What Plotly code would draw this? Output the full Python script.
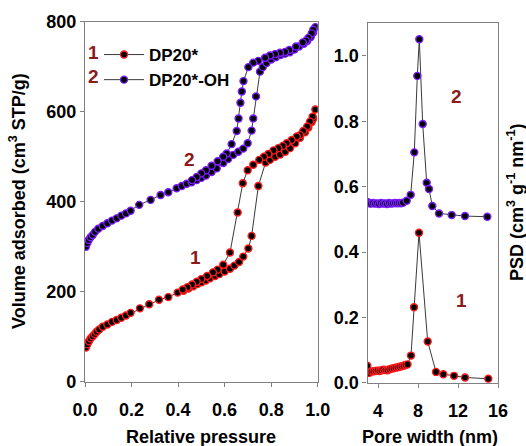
import plotly.graph_objects as go

# ---- N2 isotherms (relative pressure, volume adsorbed cm3 STP/g) ----
# DP20*: adsorption branch (rising), then desorption branch (falling)
p_dp20_ads = [0.004, 0.010, 0.017, 0.024, 0.033, 0.042, 0.050, 0.061, 0.076, 0.096,
              0.116, 0.136, 0.156, 0.176, 0.196, 0.236, 0.276, 0.318, 0.358, 0.398,
              0.423, 0.444, 0.465, 0.483, 0.501, 0.519, 0.537, 0.559, 0.577, 0.600,
              0.623, 0.642, 0.662, 0.680, 0.702, 0.716, 0.745, 0.776, 0.795, 0.817,
              0.838, 0.860, 0.881, 0.903, 0.924, 0.945, 0.960, 0.974, 0.981, 0.990]
v_dp20_ads = [76, 83, 90, 96, 101, 106, 111, 116, 122, 127,
              133, 137, 142, 147, 153, 163, 172, 182, 188, 198,
              202, 207, 212, 217, 221, 225, 230, 235, 239, 245,
              251, 258, 266, 278, 296, 324, 435, 487, 493, 500,
              505, 511, 519, 530, 542, 554, 565, 577, 585, 605]
p_dp20_des = [0.978, 0.967, 0.955, 0.938, 0.924, 0.910, 0.888, 0.867, 0.850, 0.831,
              0.810, 0.788, 0.769, 0.749, 0.723, 0.699, 0.678, 0.656, 0.623, 0.594,
              0.570, 0.550, 0.525, 0.500, 0.480, 0.460, 0.440, 0.420]
v_dp20_des = [589, 578, 567, 557, 548, 545, 537, 530, 524, 519,
              514, 506, 500, 493, 482, 470, 441, 376, 287, 260,
              249, 243, 235, 228, 222, 216, 210, 205]

# DP20*-OH
p_oh_ads = [0.004, 0.010, 0.016, 0.024, 0.033, 0.043, 0.057, 0.076, 0.096, 0.116,
            0.136, 0.156, 0.176, 0.196, 0.233, 0.282, 0.325, 0.358, 0.394, 0.416,
            0.437, 0.458, 0.480, 0.500, 0.520, 0.544, 0.566, 0.594, 0.615, 0.637,
            0.659, 0.680, 0.699, 0.716, 0.723, 0.735, 0.752, 0.764, 0.780, 0.800,
            0.820, 0.840, 0.860, 0.880, 0.900, 0.920, 0.940, 0.955, 0.970, 0.981,
            0.990]
v_oh_ads = [300, 308, 315, 321, 326, 333, 340, 346, 352, 358,
            363, 369, 374, 380, 393, 404, 415, 421, 430, 435,
            440, 443, 448, 453, 458, 466, 474, 486, 495, 504,
            511, 518, 530, 558, 585, 634, 689, 699, 708, 716,
            721, 726, 729, 732, 738, 745, 751, 757, 766, 776,
            788]
p_oh_des = [0.981, 0.974, 0.960, 0.950, 0.936, 0.907, 0.878, 0.860, 0.838, 0.817,
            0.795, 0.774, 0.745, 0.723, 0.702, 0.681, 0.674, 0.668, 0.660, 0.652,
            0.630, 0.609, 0.594, 0.570, 0.544, 0.520, 0.500, 0.480, 0.460]
v_oh_des = [782, 774, 764, 758, 754, 745, 737, 733, 731, 728,
            725, 720, 713, 709, 699, 668, 645, 620, 585, 557,
            528, 507, 500, 490, 480, 470, 463, 455, 448]

# ---- Pore size distributions (pore width nm, PSD cm3 g-1 nm-1) ----
w_dp20 = [2.93, 3.13, 3.35, 3.55, 3.75, 3.95, 4.15, 4.35, 4.55, 4.75,
          4.95, 5.15, 5.35, 5.55, 5.75, 5.95, 6.15, 6.35, 6.55, 6.75,
          6.95, 7.30, 7.60, 8.10, 8.97, 9.80, 10.53, 11.60, 12.70, 15.03]
psd_dp20 = [0.052, 0.030, 0.034, 0.035, 0.036, 0.037, 0.036, 0.038, 0.040, 0.039,
            0.038, 0.041, 0.043, 0.044, 0.046, 0.047, 0.049, 0.050, 0.052, 0.054,
            0.056, 0.083, 0.231, 0.459, 0.126, 0.033, 0.026, 0.021, 0.016, 0.012]
w_oh = [2.95, 3.10, 3.30, 3.50, 3.70, 3.90, 4.10, 4.30, 4.50, 4.70,
        4.90, 5.10, 5.30, 5.50, 5.70, 5.90, 6.10, 6.30, 6.50, 6.87,
        7.27, 7.63, 7.93, 8.13, 8.47, 8.87, 9.10, 9.43, 10.10, 11.37,
        12.70, 14.93]
psd_oh = [0.553, 0.549, 0.548, 0.550, 0.548, 0.549, 0.547, 0.550, 0.548, 0.549,
          0.547, 0.550, 0.548, 0.549, 0.550, 0.549, 0.550, 0.549, 0.551, 0.557,
          0.575, 0.705, 0.939, 1.051, 0.792, 0.612, 0.593, 0.541, 0.518, 0.513,
          0.510, 0.508]

names = ["DP20*", "DP20*-OH"]
edge_colors = ["#ff1a1a", "#7a1cff"]
label_color = "#8b1a1a"
axis_color = "#808080"
FONT = "Liberation Sans, Arial, sans-serif"
FS = 18

W, H = 526, 446


def px_x(v):
    return v / W


def px_y(v):
    return (H - v) / H


def marker(color):
    return dict(symbol="circle", size=7, color="black", line=dict(color=color, width=1.4))


line_style = dict(color="#3a3a3a", width=1)

fig = go.Figure()

iso = [(p_dp20_ads + p_dp20_des, v_dp20_ads + v_dp20_des),
       (p_oh_ads + p_oh_des, v_oh_ads + v_oh_des)]
for (px, vy), name, col in zip(iso, names, edge_colors):
    fig.add_trace(go.Scatter(x=px, y=vy, mode="lines+markers", name=name,
                             line=line_style, marker=marker(col),
                             xaxis="x", yaxis="y"))

for wx, py, col in [(w_dp20, psd_dp20, edge_colors[0]), (w_oh, psd_oh, edge_colors[1])]:
    fig.add_trace(go.Scatter(x=wx, y=py, mode="lines+markers", showlegend=False,
                             line=line_style, marker=marker(col),
                             xaxis="x2", yaxis="y2"))

axis_common = dict(showline=True, linecolor=axis_color, linewidth=1.3, mirror=True,
                   ticks="outside", ticklen=4, tickcolor=axis_color, tickwidth=1.3,
                   showgrid=False, zeroline=False, automargin=False,
                   tickfont=dict(family=FONT, size=FS, color="black", weight="bold"))

fig.update_layout(
    width=W, height=H,
    margin=dict(l=0, r=0, t=0, b=0, pad=0, autoexpand=False),
    paper_bgcolor="white", plot_bgcolor="white",
    xaxis=dict(domain=[px_x(85), px_x(317.7)], range=[0, 1.0], tick0=0, dtick=0.2,
               tickformat=".1f", anchor="y", ticklabelstandoff=8, **axis_common),
    yaxis=dict(domain=[px_y(381.7), px_y(21.7)], range=[0, 800], tick0=0, dtick=200,
               anchor="x", **axis_common),
    xaxis2=dict(domain=[px_x(367.5), px_x(498)], range=[2.95, 16], tick0=0, dtick=4,
                anchor="y2", ticklabelstandoff=8, **axis_common),
    yaxis2=dict(domain=[px_y(382.7), px_y(23.3)], range=[0, 1.1], tick0=0, dtick=0.2,
                tickformat=".1f", anchor="x2", **axis_common),
    legend=dict(x=px_x(99), y=px_y(37), xanchor="left", yanchor="top",
                bgcolor="rgba(0,0,0,0)", borderwidth=0, itemwidth=40,
                font=dict(family=FONT, size=FS - 1, color="black", weight="bold"),
                tracegroupgap=0),
    showlegend=True,
)

title_font = dict(family=FONT, size=FS, color="black", weight="bold")
num_font = dict(family=FONT, size=FS + 1, color=label_color, weight="bold")


def paper_note(text, x, y, font, angle=0):
    return dict(text=text, xref="paper", yref="paper", x=px_x(x), y=px_y(y),
                xanchor="center", yanchor="middle", showarrow=False,
                textangle=angle, font=font)


def data_note(text, xref, yref, x, y):
    return dict(text=text, xref=xref, yref=yref, x=x, y=y, xanchor="center",
                yanchor="middle", showarrow=False, font=num_font)


annotations = [
    # axis titles
    paper_note("Relative pressure", 201, 437, title_font),
    paper_note("Pore width (nm)", 430, 437, title_font),
    paper_note("Volume adsorbed (cm<sup>3</sup> STP/g)", 17, 201, title_font, -90),
    paper_note("PSD (cm<sup>3</sup> g<sup>-1</sup> nm<sup>-1</sup>)", 515, 203, title_font, -90),
    # legend numbering
    paper_note("1", 93, 52, num_font),
    paper_note("2", 93, 76, num_font),
    # curve labels
    data_note("2", "x", "y", 0.448, 494),
    data_note("1", "x", "y", 0.473, 276),
    data_note("2", "x2", "y2", 11.87, 0.875),
    data_note("1", "x2", "y2", 12.37, 0.253),
]
fig.update_layout(annotations=annotations)

fig.write_html("out.html")
